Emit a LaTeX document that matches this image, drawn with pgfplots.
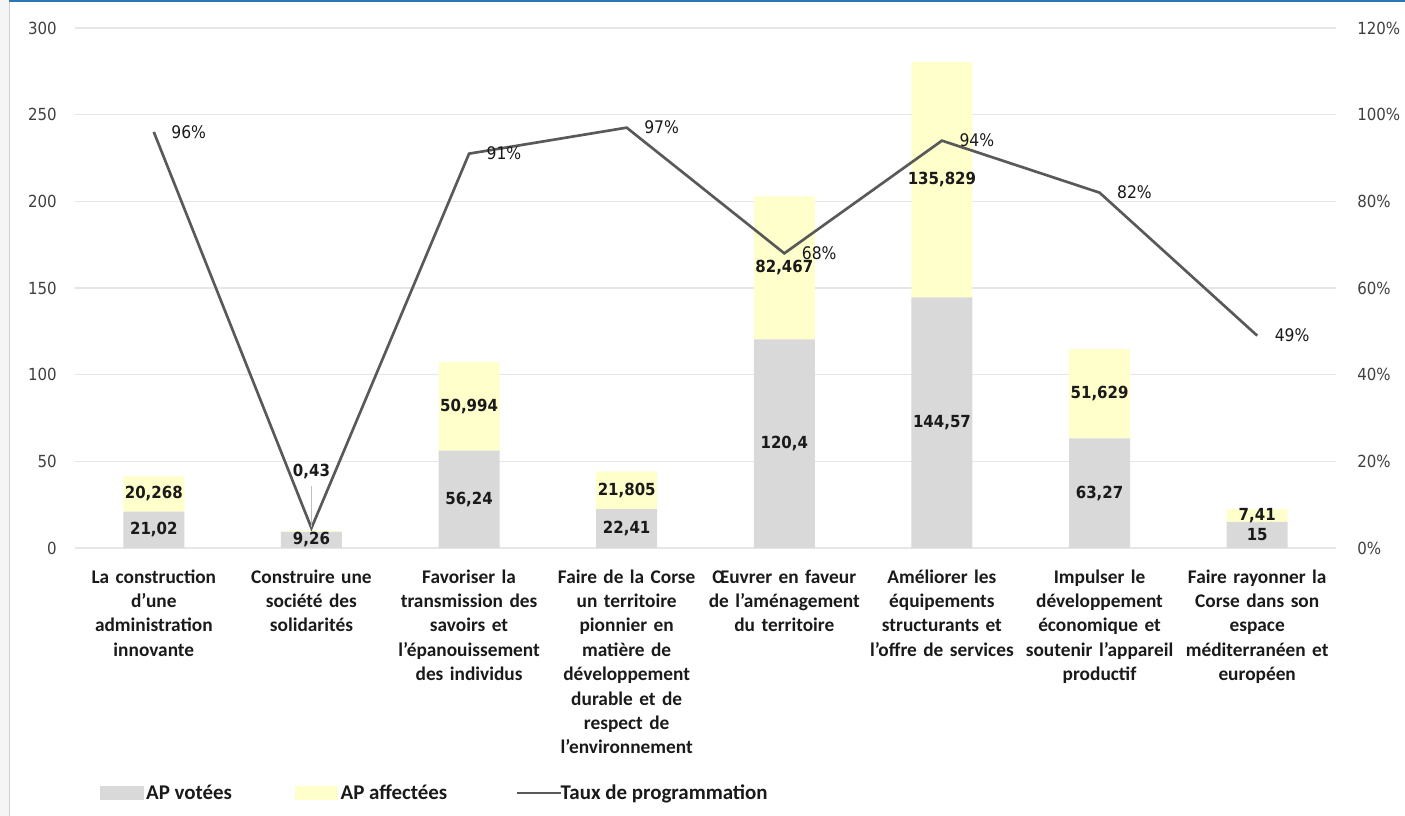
\documentclass[border=0pt]{standalone}
\usepackage{pgfplots}
\pgfplotsset{compat=1.18}
\usepackage{pgfplotstable}
\usepackage{fontspec}
\setmainfont{Carlito}
\newfontfamily\numfont{DejaVu Sans Condensed}

\definecolor{greybar}{HTML}{D9D9D9}
\definecolor{yellowbar}{HTML}{FFFFCC}
\definecolor{linecol}{HTML}{595959}
\definecolor{gridcol}{HTML}{E6E6E6}
\definecolor{tickcol}{HTML}{404040}
\definecolor{frameblue}{HTML}{2E75B6}
\definecolor{labcol}{HTML}{1A1A1A}

\pgfplotstableread{
x vot aff
0 21.02 20.268
1 9.26 0.43
2 56.24 50.994
3 22.41 21.805
4 120.4 82.467
5 144.57 135.829
6 63.27 51.629
7 15 7.41
}\bars

\pgfplotstableread{
x taux
0 96
1 4.6
2 91
3 97
4 68
5 94
6 82
7 49
}\taux

\pgfplotstableread{
x taux lab
0 96 96\%
2 91 91\%
3 97 97\%
4 68 68\%
5 94 94\%
6 82 82\%
7 49 49\%
}\tauxlab

\pgfplotstableread{
x y lab
0 10.51 21,02
0 31.154 20,268
1 4.63 9,26
1 44 0,43
2 28.12 56,24
2 81.737 50,994
3 11.205 22,41
3 33.3125 21,805
4 60.2 120,4
4 161.6335 82,467
5 72.285 144,57
5 212.4845 135,829
6 31.635 63,27
6 89.0845 51,629
7 7.5 15
7 18.705 7,41
}\barlabs

\begin{document}
\begin{tikzpicture}
\useasboundingbox (0,0) rectangle (1053.75pt,612pt);
\fill[black!4] (0,0) rectangle (6.75pt,612pt);
\draw[black!18, line width=0.8pt] (7pt,0) -- (7pt,612pt);

% Bars
\begin{axis}[
  at={(56.25pt,201pt)}, anchor=south west,
  scale only axis, width=945.75pt, height=390pt,
  xmin=-0.5, xmax=7.5, ymin=0, ymax=300,
  ybar stacked, bar width=45.75pt,
  axis x line*=bottom, axis y line*=left,
  x axis line style={gridcol, line width=1pt},
  y axis line style={draw=none},
  major tick length=0pt,
  ytick={0,50,100,150,200,250,300},
  yticklabels={0,50,100,150,200,250,300},
  yticklabel style={font=\numfont\fontsize{12.5}{15}\selectfont, text=tickcol, inner sep=0pt, xshift=-13.5pt},
  ymajorgrids, grid style={gridcol, line width=1pt},
  xtick={0,...,7},
  xticklabels={
    {La construction\\d'une\\administration\\innovante},
    {Construire une\\société des\\solidarités},
    {Favoriser la\\transmission des\\savoirs et\\l'épanouissement\\des individus},
    {Faire de la Corse\\un territoire\\pionnier en\\matière de\\développement\\durable et de\\respect de\\l'environnement},
    {Œuvrer en faveur\\de l'aménagement\\du territoire},
    {Améliorer les\\équipements\\structurants et\\l'offre de services},
    {Impulser le\\développement\\économique et\\soutenir l'appareil\\productif},
    {Faire rayonner la\\Corse dans son\\espace\\méditerranéen et\\européen}},
  xticklabel style={font=\bfseries\fontsize{14.5}{18.3}\selectfont, align=center, text width=125pt, inner sep=0pt, yshift=-16pt, text=labcol},
]
\addplot[fill=greybar, draw=none] table[x=x,y=vot]{\bars};
\addplot[fill=yellowbar, draw=none] table[x=x,y=aff]{\bars};
\end{axis}

% Line
\begin{axis}[
  at={(56.25pt,201pt)}, anchor=south west,
  scale only axis, width=945.75pt, height=390pt,
  xmin=-0.5, xmax=7.5, ymin=0, ymax=120,
  hide x axis,
  axis y line*=right,
  y axis line style={draw=none},
  major tick length=0pt,
  ytick={0,20,40,60,80,100,120},
  yticklabels={0\%,20\%,40\%,60\%,80\%,100\%,120\%},
  yticklabel style={font=\numfont\fontsize{12.5}{15}\selectfont, text=tickcol, inner sep=0pt, xshift=15.75pt},
  legend style={at={(0.0198,-0.471)}, anchor=west, draw=none, fill=none, inner sep=0pt,
    font=\bfseries\fontsize{15.7}{18}\selectfont, text=labcol,
    legend columns=3,
    /tikz/column 2/.style={column sep=45pt},
    /tikz/column 4/.style={column sep=50pt}},
  legend cell align=left,
]
\addlegendimage{legend image code/.code={\fill[greybar] (0pt,-5pt) rectangle (32pt,5pt);}}
\addlegendentry{AP votées}
\addlegendimage{legend image code/.code={\fill[yellowbar] (0pt,-5pt) rectangle (32pt,5pt);}}
\addlegendentry{AP affectées}
\addplot[linecol, line width=2pt, mark=none,
  legend image code/.code={\path[draw=none, fill=none, use as bounding box] (0pt,-5pt) rectangle (31pt,5pt);\draw[linecol, line width=2pt] (0pt,0pt) -- (33pt,0pt);}]
  table[x=x,y=taux]{\taux};
\addlegendentry{Taux de programmation}
\addplot[draw=none, mark=none, forget plot, nodes near coords, point meta=explicit symbolic,
  every node near coord/.append style={anchor=west, inner sep=0pt, xshift=13pt,
    font=\numfont\fontsize{13}{15}\selectfont, text=labcol}]
  table[x=x,y=taux,meta=lab]{\tauxlab};
\end{axis}

% Bar data labels
\begin{axis}[
  at={(56.25pt,201pt)}, anchor=south west,
  scale only axis, width=945.75pt, height=390pt,
  xmin=-0.5, xmax=7.5, ymin=0, ymax=300,
  hide axis,
]
\addplot[black!25, line width=0.6pt, mark=none] coordinates {(1,12) (1,36)};
\addplot[draw=none, mark=none, nodes near coords, point meta=explicit symbolic,
  every node near coord/.append style={anchor=center, inner sep=0pt,
    font=\numfont\bfseries\fontsize{12.5}{15}\selectfont, text=labcol}]
  table[x=x,y=y,meta=lab]{\barlabs};
\end{axis}

\fill[frameblue] (7pt,610.5pt) rectangle (1053.75pt,612pt);
\end{tikzpicture}
\end{document}
